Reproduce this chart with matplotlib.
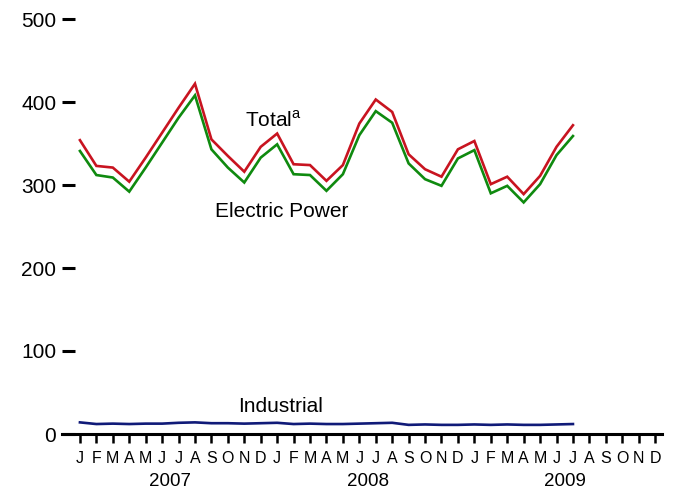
import matplotlib
matplotlib.use("Agg")
import matplotlib.pyplot as plt
import matplotlib.transforms as mtransforms

plt.rcParams['font.family'] = ['Liberation Sans', 'DejaVu Sans']
plt.rcParams['mathtext.fontset'] = 'custom'
plt.rcParams['mathtext.rm'] = 'Liberation Sans'

month_labels = ["J", "F", "M", "A", "M", "J", "J", "A", "S", "O", "N", "D"] * 3
years = ["2007", "2008", "2009"]

total = [354, 323, 321, 304, 333, 363, 393, 422, 355, 335, 316, 346,
         362, 325, 324, 305, 324, 374, 403, 388, 337, 319, 310, 343,
         353, 301, 310, 289, 311, 346, 372]
electric = [341, 312, 309, 292, 321, 351, 381, 408, 343, 321, 303, 333,
            349, 313, 312, 293, 313, 360, 389, 375, 326, 307, 299, 332,
            342, 290, 299, 279, 301, 336, 359]
industrial = [14, 12, 12.5, 12, 12.5, 12.5, 13.5, 14, 13, 13, 12.5, 13,
              13.5, 12, 12.5, 12, 12, 12.5, 13, 13.5, 11, 11.5, 11, 11,
              11.5, 11, 11.5, 11, 11, 11.5, 12]

fig = plt.figure(figsize=(6.74, 4.91), dpi=100)
ax = fig.add_axes([61.7/674, 1-434/491, 600/674, 415/491])

x = list(range(len(total)))
ax.plot(x, total, color='#c81420', lw=1.9, solid_joinstyle='miter')
ax.plot(x, electric, color='#0f8a0f', lw=1.9, solid_joinstyle='miter')
ax.plot(x, industrial, color='#101a78', lw=1.9)

ax.set_xlim(-1.11, 35.4)
ax.set_ylim(0, 500)

for s in ['left', 'right', 'top']:
    ax.spines[s].set_visible(False)
ax.spines['bottom'].set_linewidth(2.2)

ax.set_yticks([0, 100, 200, 300, 400, 500])
ax.tick_params(axis='y', direction='in', length=9.5, width=2.2, pad=4, labelsize=15)
ax.set_xticks(range(36))
ax.set_xticklabels(month_labels)
ax.tick_params(axis='x', direction='out', length=6.7, width=1.8, pad=5.5, labelsize=11.5)

trans = mtransforms.blended_transform_factory(ax.transData, ax.transAxes)
for i, yr in enumerate(years):
    ax.text(5.5 + 12*i, -0.126, yr, transform=trans, ha='center', va='baseline', fontsize=13.5)

ax.text(11.8, 378, r"Total$^{\rm a}$", ha='center', va='center', fontsize=15)
ax.text(12.3, 268, "Electric Power", ha='center', va='center', fontsize=15)
ax.text(12.2, 33, "Industrial", ha='center', va='center', fontsize=15)

fig.savefig("out.png", dpi=100)
